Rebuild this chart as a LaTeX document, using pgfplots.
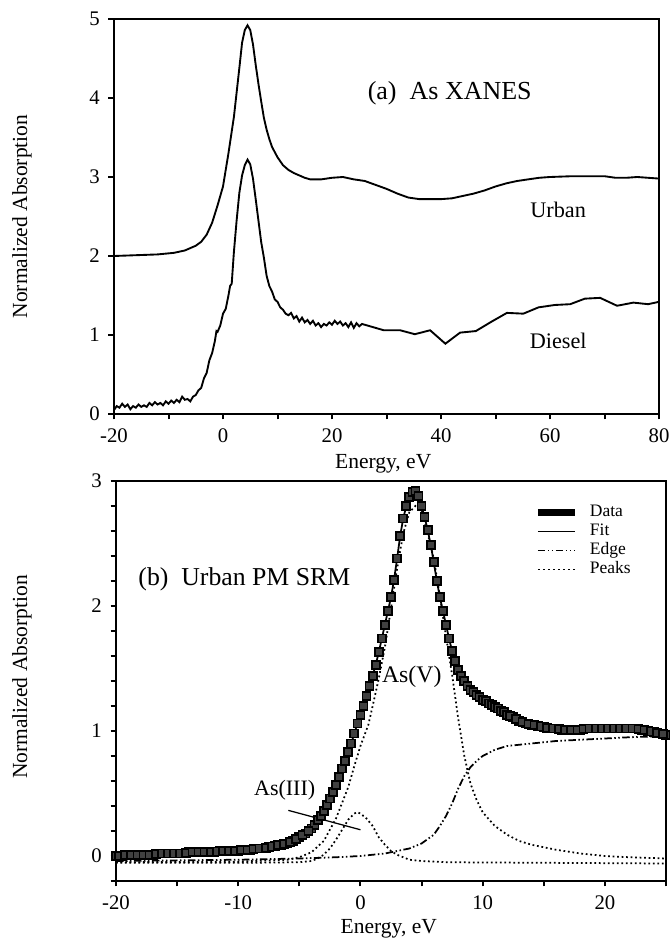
\documentclass[border=0pt]{standalone}
\usepackage{pgfplots}
\pgfplotsset{compat=1.18}
\usepackage{fontspec}
\setmainfont{Liberation Serif}

\pgfplotstableread{
x y
-20 2.00
-16 2.01
-12 2.02
-9 2.04
-7 2.07
-5 2.13
-4 2.18
-3 2.27
-2 2.42
-1 2.64
0 2.88
1 3.30
2 3.76
3 4.38
3.5 4.70
4 4.86
4.5 4.92
5 4.86
5.5 4.68
6 4.42
6.5 4.18
7 3.96
7.5 3.75
8 3.60
8.5 3.48
9 3.38
10 3.25
11 3.15
12 3.09
13 3.05
14 3.02
15 2.99
16 2.97
18 2.97
20 2.99
22 3.00
24 2.97
26 2.95
28 2.90
30 2.85
32 2.79
34 2.74
36 2.72
38 2.72
40 2.72
42 2.73
44 2.76
46 2.79
48 2.83
50 2.88
52 2.92
54 2.95
56 2.97
58 2.99
60 3.00
64 3.01
68 3.01
70 3.01
72 2.99
74 2.99
76 3.00
78 2.99
80 2.98
}\urban

\pgfplotstableread{
x y
-20 0.05
-19.5 0.10
-19 0.08
-18.5 0.13
-18 0.09
-17.5 0.12
-17 0.06
-16.5 0.10
-16 0.08
-15.5 0.12
-15 0.09
-14.5 0.11
-14 0.09
-13.5 0.14
-13 0.11
-12.5 0.15
-12 0.12
-11.5 0.14
-11 0.11
-10.5 0.16
-10 0.13
-9.5 0.17
-9 0.14
-8.5 0.18
-8 0.15
-7.5 0.22
-7 0.18
-6.5 0.19
-6 0.16
-5.5 0.22
-5 0.24
-4.5 0.30
-4 0.33
-3.5 0.45
-3 0.52
-2.5 0.68
-2 0.77
-1.5 0.92
-1.2 1.05
-1 1.04
-0.5 1.12
0 1.27
0.5 1.33
1 1.50
1.3 1.62
1.6 1.65
2 2.05
2.5 2.45
3 2.80
3.5 3.02
4 3.15
4.5 3.22
5 3.16
5.5 2.98
6 2.72
6.5 2.45
7 2.18
7.5 1.98
8 1.75
8.5 1.62
9 1.55
9.5 1.45
10 1.42
10.5 1.35
11 1.32
11.5 1.27
12 1.25
12.5 1.28
13 1.21
13.5 1.24
14 1.17
14.5 1.22
15 1.16
15.5 1.19
16 1.14
16.5 1.18
17 1.12
17.5 1.15
18 1.10
18.5 1.14
19 1.12
19.5 1.16
20 1.13
20.5 1.18
21 1.14
21.5 1.17
22 1.12
22.5 1.15
23 1.10
23.5 1.16
24 1.09
24.5 1.15
25 1.11
25.5 1.14
26 1.13
29.5 1.06
32.5 1.06
35.2 1.01
38 1.06
40.8 0.89
43.5 1.03
46.4 1.05
49.3 1.17
52.1 1.28
55.1 1.27
57.9 1.35
60.9 1.38
63.7 1.39
66.4 1.46
69.2 1.47
72.3 1.37
75.3 1.41
78 1.39
80 1.42
}\diesel

\pgfplotstableread{
x y
-20 0.00
-19.5 0.00
-19 0.01
-18.5 0.01
-18 0.01
-17.5 0.01
-17 0.01
-16.5 0.02
-16 0.02
-15.5 0.02
-15 0.02
-14.5 0.02
-14 0.03
-13.5 0.03
-13 0.03
-12.5 0.03
-12 0.03
-11.5 0.04
-11 0.04
-10.5 0.04
-10 0.04
-9.5 0.05
-9 0.05
-8.5 0.06
-8 0.06
-7.5 0.07
-7 0.08
-6.5 0.09
-6 0.10
-5.5 0.12
-5 0.15
-4.5 0.18
-4.00 0.22
-3.75 0.25
-3.50 0.29
-3.25 0.32
-3.00 0.36
-2.75 0.41
-2.50 0.46
-2.25 0.51
-2.00 0.57
-1.75 0.63
-1.50 0.70
-1.25 0.76
-1.00 0.83
-0.75 0.90
-0.50 0.98
-0.25 1.06
0.00 1.13
0.25 1.20
0.50 1.28
0.75 1.36
1.00 1.44
1.25 1.53
1.50 1.63
1.75 1.74
2.00 1.85
2.25 1.96
2.50 2.07
2.75 2.21
3.00 2.38
3.25 2.56
3.50 2.70
3.75 2.80
4.00 2.87
4.25 2.91
4.50 2.92
4.75 2.88
5.00 2.80
5.25 2.71
5.50 2.61
5.75 2.49
6.00 2.35
6.25 2.20
6.50 2.07
6.75 1.96
7.00 1.85
7.25 1.74
7.50 1.64
7.75 1.56
8.00 1.49
8.25 1.44
8.50 1.40
8.75 1.36
9.00 1.33
9.25 1.31
9.50 1.29
9.75 1.27
10.00 1.25
10.25 1.24
10.50 1.22
10.75 1.21
11.00 1.19
11.25 1.18
11.50 1.16
11.75 1.15
12.00 1.13
12.5 1.11
13 1.08
13.5 1.06
14 1.05
14.5 1.04
15 1.03
15.5 1.02
16 1.02
16.5 1.01
17 1.01
17.5 1.01
18 1.01
18.5 1.02
19 1.02
19.5 1.02
20 1.02
20.5 1.02
21 1.02
21.5 1.02
22 1.02
22.5 1.02
23 1.01
23.5 1.00
24 0.99
24.5 0.98
25 0.97
}\pmdata

\pgfplotstableread{
x y
-19.75 0.00
-19.25 0.005
-18.75 0.01
-18.25 0.01
-17.75 0.01
-17.25 0.01
-16.75 0.015
-16.25 0.02
-15.75 0.02
-15.25 0.02
-14.75 0.02
-14.25 0.025
-13.75 0.03
-13.25 0.03
-12.75 0.03
-12.25 0.03
-11.75 0.035
-11.25 0.04
-10.75 0.04
-10.25 0.04
-9.75 0.045
-9.25 0.05
-8.75 0.055
-8.25 0.06
-7.75 0.065
-7.25 0.075
-6.75 0.085
-6.25 0.095
-5.75 0.11
-5.25 0.135
-4.75 0.165
-4.25 0.20
12.25 1.12
12.75 1.095
13.25 1.07
13.75 1.055
14.25 1.045
14.75 1.035
15.25 1.025
15.75 1.02
16.25 1.015
16.75 1.01
17.25 1.01
17.75 1.01
18.25 1.015
18.75 1.02
19.25 1.02
19.75 1.02
20.25 1.02
20.75 1.02
21.25 1.02
21.75 1.02
22.25 1.02
22.75 1.015
23.25 1.005
23.75 0.995
24.25 0.985
24.75 0.975
}\pmdatab

\pgfplotstableread{
x y
-20 -0.04
-15 -0.035
-10 -0.03
-5 -0.02
-2 -0.01
0 0.00
2 0.02
4 0.06
5 0.10
6 0.17
6.5 0.24
7 0.32
7.5 0.42
8 0.54
8.5 0.64
9 0.71
9.5 0.76
10 0.80
11 0.85
12 0.88
14 0.90
16 0.92
18 0.93
20 0.94
22 0.95
25 0.96
}\edge

\pgfplotstableread{
x y
-20 -0.05
-10 -0.045
-6 -0.03
-5 -0.01
-4 0.03
-3 0.12
-2 0.30
-1 0.55
-0.5 0.72
0 0.88
0.65 1.05
1 1.20
1.5 1.42
2 1.67
2.5 1.98
3 2.30
3.5 2.58
4 2.75
4.5 2.80
5 2.75
5.5 2.58
6 2.38
6.5 2.08
7 1.76
7.5 1.45
8 1.10
8.5 0.80
9 0.58
9.5 0.45
10 0.35
11 0.24
12 0.17
13 0.12
14 0.09
16 0.05
18 0.02
20 0.00
22 -0.01
25 -0.02
}\asv

\pgfplotstableread{
x y
-20 -0.055
-10 -0.055
-5 -0.05
-4 -0.04
-3.5 -0.02
-3 0.01
-2.5 0.06
-2 0.13
-1.5 0.21
-1 0.29
-0.5 0.34
-0.25 0.35
0 0.34
0.5 0.30
1 0.24
1.5 0.15
2 0.09
2.5 0.04
3 0.01
3.5 -0.01
4 -0.03
5 -0.04
7 -0.05
25 -0.06
}\asiii

\begin{document}
\begin{tikzpicture}
\useasboundingbox (0,0) rectangle (268pt,375.6pt);
\pgfplotsset{
  every axis/.append style={
    scale only axis,
    tick pos=left,
    tick align=outside,
    major tick length=2.2pt,
    axis line style={line width=0.8pt},
    every tick/.style={black, line width=0.8pt},
    ticklabel style={font=\fontsize{8.3}{9.5}\selectfont},
    label style={font=\fontsize{8.6}{10}\selectfont},
  },
}
% ---------- top panel ----------
\begin{axis}[
  at={(45.6pt,210pt)}, anchor=south west,
  width=218pt, height=158pt,
  xmin=-20, xmax=80, ymin=0, ymax=5,
  xtick={-20,-10,...,80},
  xticklabels={-20,,0,,20,,40,,60,,80},
  ytick={0,1,2,3,4,5},
  yticklabels={0,1,2,3,4,5},
  xlabel={Energy, eV},
  ylabel={Normalized Absorption},
  xlabel style={at={(axis description cs:0.494,-0.127)}, anchor=center},
  ylabel style={at={(axis description cs:-0.169,0.5)}, anchor=center},
]
\addplot[black, line width=0.75pt] table {\urban};
\addplot[black, line width=0.75pt] table {\diesel};
\node[font=\fontsize{10.4}{12}\selectfont] at (axis cs:41.6,4.06) {(a)\ \ As XANES};
\node[font=\fontsize{8.9}{10}\selectfont] at (axis cs:61.5,2.59) {Urban};
\node[font=\fontsize{8.9}{10}\selectfont] at (axis cs:61.5,0.92) {Diesel};
\end{axis}
% ---------- bottom panel ----------
\begin{axis}[
  at={(46.4pt,23.2pt)}, anchor=south west,
  width=220pt, height=160pt,
  xmin=-20, xmax=25, ymin=-0.2, ymax=3,
  xtick={-20,-15,-10,-5,0,5,10,15,20,25},
  xticklabels={-20,,-10,,0,,10,,20,},
  ytick={-0.2,0,0.2,0.4,0.6,0.8,1,1.2,1.4,1.6,1.8,2,2.2,2.4,2.6,2.8,3},
  yticklabels={,0,,,,,1,,,,,2,,,,,3},
  xlabel={Energy, eV},
  ylabel={Normalized Absorption},
  xlabel style={at={(axis description cs:0.496,-0.12)}, anchor=center},
  ylabel style={at={(axis description cs:-0.171,0.51)}, anchor=center},
  legend cell align=left,
  legend style={draw=none, fill=none, inner sep=0pt,
    at={(axis description cs:0.7595,0.946)}, anchor=north west,
    font=\fontsize{7}{7.6}\selectfont,
    nodes={text height=5pt, text depth=1.6pt, inner sep=0.5pt},
    column sep=4pt, row sep=0pt},
]
\addplot[only marks, mark=square*, mark size=1.6pt,
  mark options={draw=black, fill=black!75, line width=0.7pt},
  legend image code/.code={\draw[black, line width=3pt] (0pt,0pt) -- (14.8pt,0pt);}]
  table {\pmdata};
\addlegendentry{Data}
\addplot[only marks, mark=square*, mark size=1.6pt, forget plot,
  mark options={draw=black, fill=black!75, line width=0.7pt}]
  table {\pmdatab};
\addplot[black, line width=0.7pt,
  legend image code/.code={\draw[black, line width=0.7pt] (0pt,0pt) -- (14.8pt,0pt);}]
  table {\pmdata};
\addlegendentry{Fit}
\addplot[black, line width=0.7pt,
  dash pattern=on 3pt off 1pt on 0.6pt off 1pt on 0.6pt off 1pt,
  legend image code/.code={\draw[black, line width=0.7pt, dash pattern=on 3pt off 1pt on 0.6pt off 1pt on 0.6pt off 1pt] (0pt,0pt) -- (14.8pt,0pt);}]
  table {\edge};
\addlegendentry{Edge}
\addplot[black, line width=0.7pt, dash pattern=on 0.7pt off 1.1pt,
  legend image code/.code={\draw[black, line width=0.7pt, dash pattern=on 0.7pt off 1.3pt] (0pt,0pt) -- (14.8pt,0pt);}]
  table {\asv};
\addlegendentry{Peaks}
\addplot[black, line width=0.7pt, dash pattern=on 0.7pt off 1.1pt, forget plot]
  table {\asiii};
\draw[black, line width=0.5pt] (axis cs:-5.9,0.365) -- (axis cs:0.0,0.21);
\node[font=\fontsize{10.3}{12}\selectfont] at (axis cs:-9.5,2.21) {(b)\ \ Urban PM SRM};
\node[font=\fontsize{9.5}{11}\selectfont] at (axis cs:4.2,1.43) {As(V)};
\node[font=\fontsize{8.8}{10}\selectfont] at (axis cs:-6.2,0.53) {As(III)};
\end{axis}
\end{tikzpicture}
\end{document}
